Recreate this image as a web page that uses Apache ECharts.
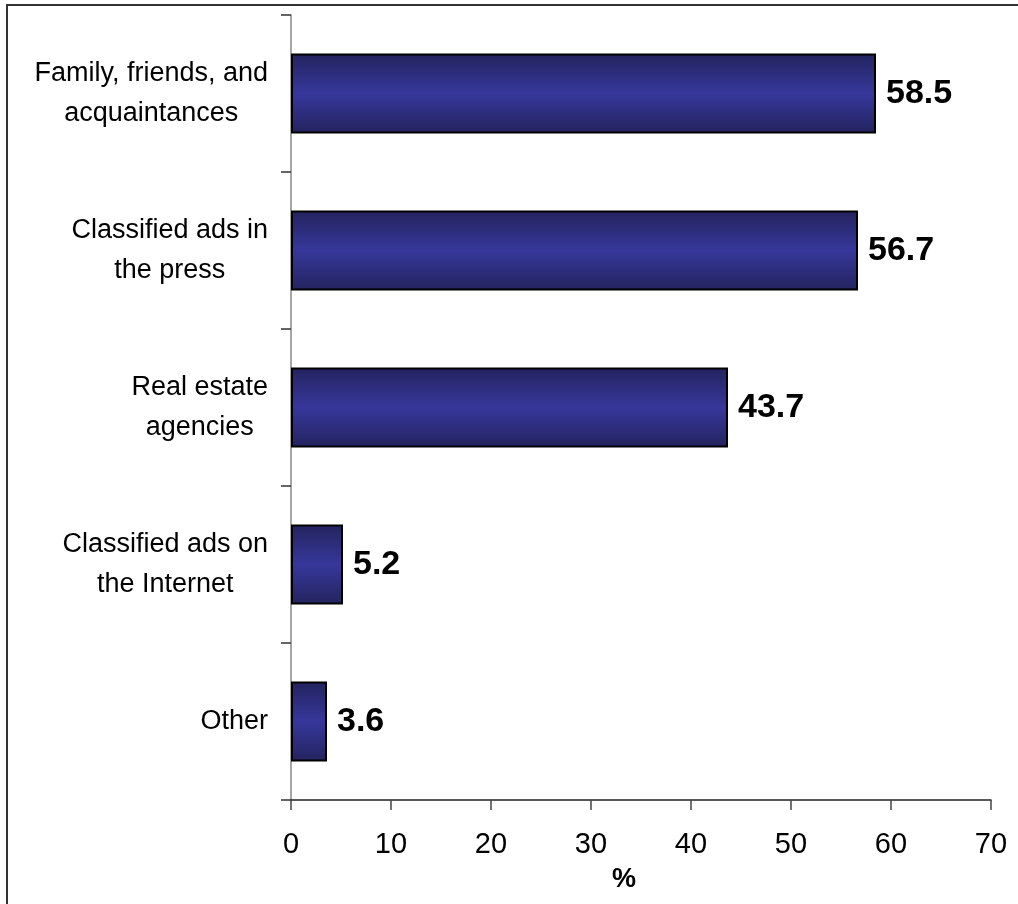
<!DOCTYPE html>
<html>
<head>
<meta charset="utf-8">
<script src="https://cdn.jsdelivr.net/npm/echarts@6/dist/echarts.min.js"></script>
<style>
html,body{margin:0;padding:0;background:#fff;}
#chart{width:1018px;height:904px;}
</style>
</head>
<body>
<div id="chart"></div>
<script>
var categories = [
  "Family, friends, and\nacquaintances",
  "Classified ads in\nthe press",
  "Real estate\nagencies",
  "Classified ads on\nthe Internet",
  "Other"
];
var values = [58.5, 56.7, 43.7, 5.2, 3.6];
var xTicks = { min: 0, max: 70, interval: 10 };
var axisName = "%";

var FONT = '"Liberation Sans", Arial, sans-serif';

var chart = echarts.init(document.getElementById('chart'), null, { renderer: 'canvas' });
chart.setOption({
  backgroundColor: '#ffffff',
  animation: false,
  graphic: [{
    type: 'rect',
    silent: true,
    z: -1,
    shape: { x: 7, y: 5, width: 1200, height: 1200 },
    style: { fill: 'none', stroke: '#333333', lineWidth: 2 }
  }],
  grid: { left: 291, right: 27, top: 15, bottom: 104, containLabel: false },
  xAxis: {
    type: 'value',
    min: xTicks.min, max: xTicks.max, interval: xTicks.interval,
    name: axisName,
    nameLocation: 'middle',
    nameGap: 66,
    nameTextStyle: { fontFamily: FONT, fontSize: 27, fontWeight: 'bold', color: '#000', padding: [0, 34, 0, 0] },
    axisLine: { show: true, lineStyle: { color: '#222', width: 1.5 } },
    axisTick: { show: true, length: 10, inside: false, lineStyle: { color: '#444', width: 1.5 } },
    axisLabel: { fontFamily: FONT, fontSize: 29, color: '#000', margin: 30 },
    splitLine: { show: false }
  },
  yAxis: {
    type: 'category',
    inverse: true,
    data: categories,
    axisLine: { show: true, lineStyle: { color: '#888', width: 1.5 } },
    axisTick: { show: true, length: 10, lineStyle: { color: '#333', width: 1.5 } },
    axisLabel: {
      margin: 23,
      formatter: function (v) {
        return v.split('\n').map(function (l) { return '{c|' + l + '}'; }).join('\n');
      },
      rich: {
        c: { align: 'center', fontFamily: FONT, fontSize: 27, lineHeight: 40, color: '#000' }
      }
    },
    splitLine: { show: false }
  },
  series: [{
    type: 'bar',
    data: values,
    barWidth: 80,
    itemStyle: {
      color: new echarts.graphic.LinearGradient(0, 0, 0, 1, [
        { offset: 0, color: '#23235e' },
        { offset: 0.5, color: '#37379c' },
        { offset: 1, color: '#23235e' }
      ]),
      borderColor: '#000',
      borderWidth: 2
    },
    label: {
      show: true,
      position: 'right',
      distance: 10,
      fontFamily: FONT,
      fontSize: 34,
      fontWeight: 'bold',
      color: '#000'
    }
  }]
});
</script>
</body>
</html>
